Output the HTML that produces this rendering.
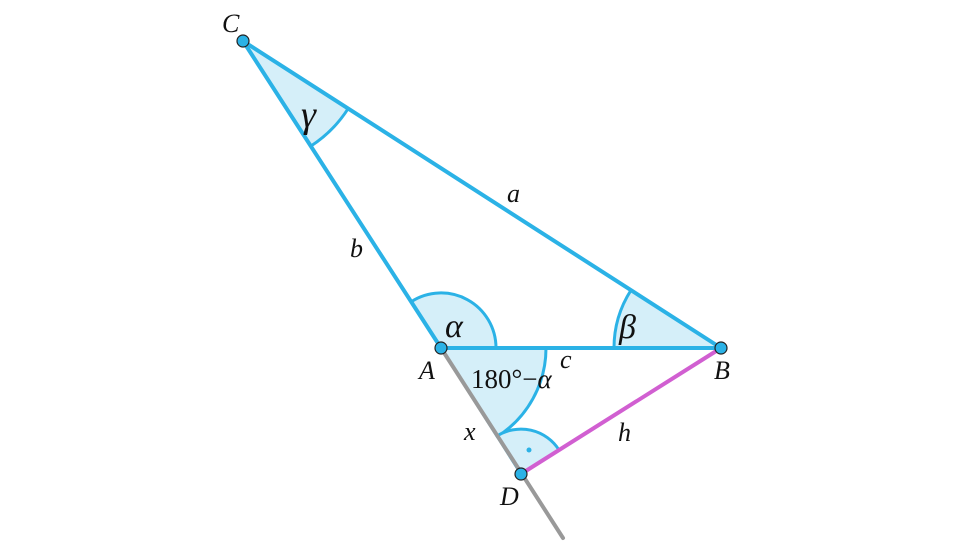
<!DOCTYPE html>
<html><head><meta charset="utf-8"><style>
html,body{margin:0;padding:0;background:#fff;}
svg{display:block}
text{font-family:"Liberation Serif",serif;fill:#111}
.i{font-style:italic}
</style></head><body>
<svg width="960" height="554" viewBox="0 0 960 554">
<g fill="#d5eff9" stroke="#2bb2e6" stroke-width="3">
<path d="M441,348 L496,348 A55,55 0 0 0 411.2,301.7 Z"/>
<path d="M441,348 L546,348 A105,105 0 0 1 497.3,436.6 Z"/>
<path d="M521,474 L497,436 A45,45 0 0 1 559,450 Z"/>
<path d="M243,41 L348.2,108.5 A125,125 0 0 1 310.8,146.1 Z"/>
<path d="M721,348 L614,348 A107,107 0 0 1 631,290.2 Z"/>
</g>
<g stroke-width="4" stroke-linecap="round">
<line x1="441" y1="348" x2="563" y2="538" stroke="#999"/>
<line x1="521" y1="474" x2="721" y2="348" stroke="#d15fd1"/>
<line x1="243" y1="41" x2="441" y2="348" stroke="#2bb2e6"/>
<line x1="243" y1="41" x2="721" y2="348" stroke="#2bb2e6"/>
<line x1="441" y1="348" x2="721" y2="348" stroke="#2bb2e6"/>
</g>
<circle cx="529" cy="450" r="2.5" fill="#2bb2e6"/>
<g fill="#2bb2e6" stroke="#222" stroke-width="1.2">
<circle cx="243" cy="41" r="6"/>
<circle cx="441" cy="348" r="6"/>
<circle cx="721" cy="348" r="6"/>
<circle cx="521" cy="474" r="6"/>
</g>
<g style="font-size:26px">
<text class="i" x="222" y="32">C</text>
<text class="i" x="419" y="379">A</text>
<text class="i" x="714" y="379">B</text>
<text class="i" x="500" y="505">D</text>
<text class="i" x="507" y="202">a</text>
<text class="i" x="350" y="257">b</text>
<text class="i" x="560" y="368">c</text>
<text class="i" x="618" y="441">h</text>
<text class="i" x="464" y="440">x</text>
</g>
<text class="i" x="445" y="337" style="font-size:34px">α</text>
<text class="i" x="619" y="338" style="font-size:34px">β</text>
<text class="i" x="301" y="127" style="font-size:38px">γ</text>
<text x="471" y="388" style="font-size:27px">180°−<tspan class="i">α</tspan></text>
</svg>
</body></html>
